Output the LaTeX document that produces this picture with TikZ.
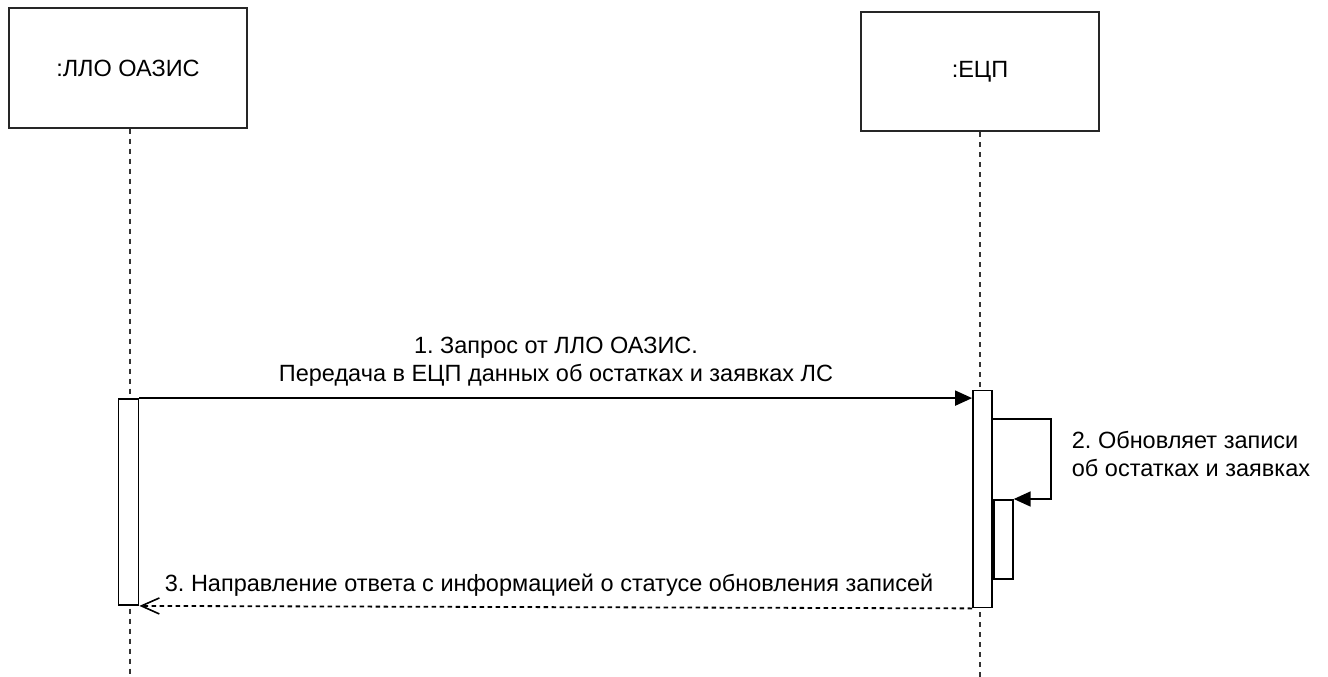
\documentclass[tikz,border=0pt]{standalone}
\usepackage{fontspec}
\setmainfont{Liberation Sans}
\usetikzlibrary{arrows.meta}
\frenchspacing
\begin{document}
\begin{tikzpicture}[x=1pt,y=-1pt,
  line width=1.8pt,
  objbox/.style={draw=black!85, line width=2pt, fill=white, minimum width=238pt, minimum height=119pt, inner sep=0pt, font=\fontsize{23.5}{28}\selectfont},
  lifeline/.style={line width=1.6pt, dash pattern=on 5pt off 5pt, black!80},
  actbox/.style={draw, fill=white, line width=1.8pt, inner sep=0pt},
  msg/.style={-{Triangle[length=17pt,width=15pt]}},
  reply/.style={dash pattern=on 4.5pt off 3.5pt, -{Straight Barb[length=18pt,width=16pt,line width=1.6pt]}},
  lbl/.style={font=\fontsize{23.5}{28}\selectfont, align=center, inner sep=0pt}
  ]
\useasboundingbox (0,0) rectangle (1328,677);
% objects
\node[objbox] (A) at (128,68) {:ЛЛО ОАЗИС};
\node[objbox] (B) at (980,71.5) {:ЕЦП};
% lifelines
\coordinate (Aend) at (130,677);
\coordinate (Bend) at (980,677);
\draw[lifeline] (A.south -| Aend) -- (Aend);
\draw[lifeline] (B.south -| Bend) -- (Bend);
% activations
\node[actbox, minimum width=20pt, minimum height=206pt] (actA) at (128.5,502) {};
\node[actbox, minimum width=19pt, minimum height=217pt] (actB) at (982.5,499) {};
\node[actbox, minimum width=19pt, minimum height=79pt, anchor=north west] (actB2) at (actB.east |- 0,499) {};
% message 1
\draw[msg] (actA.north east) -- (actB.west |- actA.north east);
\node[lbl] (l1) at (556,362) {1. Запрос от ЛЛО ОАЗИС.\\Передача в ЕЦП данных об остатках и заявках ЛС};
% message 2 (self)
\coordinate (s1) at (1051,419);
\draw[msg] (actB.east |- s1) -- (s1) -- (s1 |- actB2.north) -- (actB2.north east);
\node[lbl, align=left, anchor=west] (l2) at (1071,454) {2. Обновляет записи\\об остатках и заявках};
% message 3
\draw[reply] (actB.south west) -- (actA.south east);
\node[lbl, anchor=south west] (l3) at (164,597) {3. Направление ответа с информацией о статусе обновления записей};
\end{tikzpicture}
\end{document}
